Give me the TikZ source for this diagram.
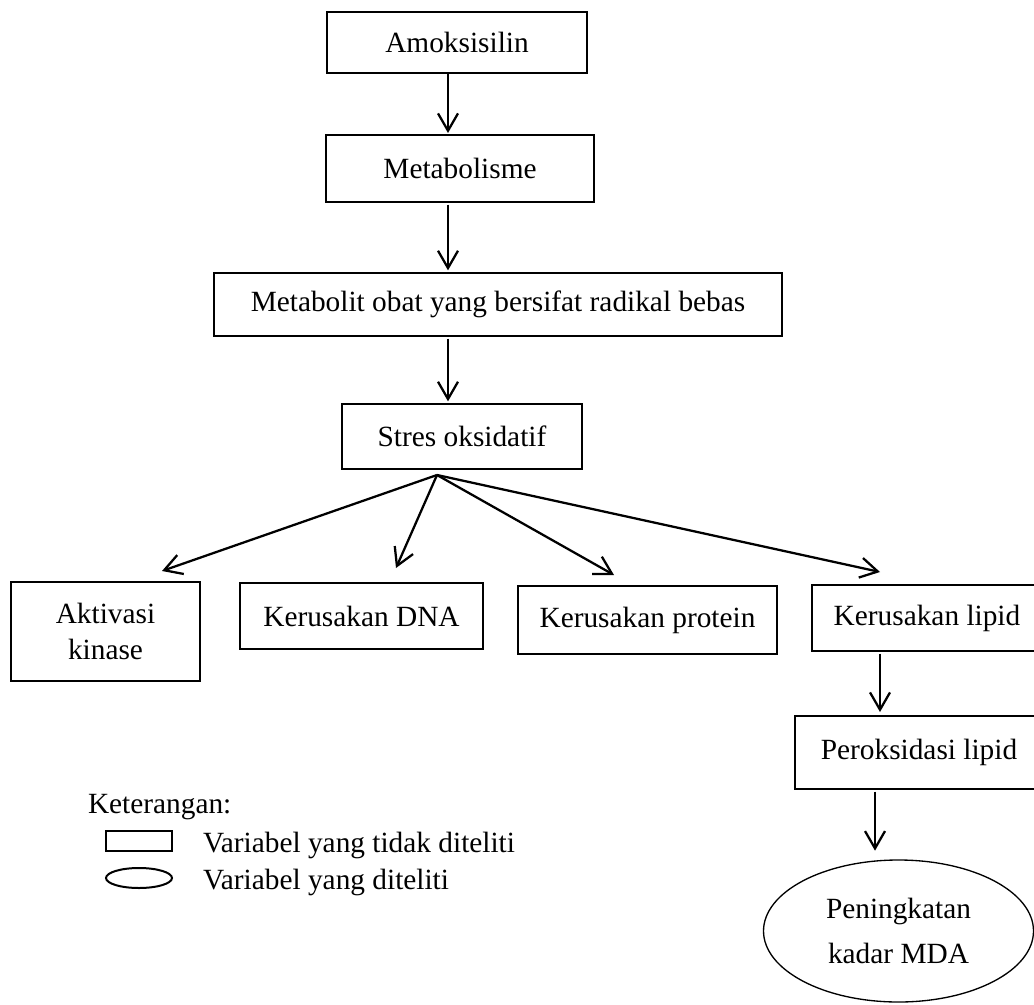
\documentclass[tikz,border=0pt]{standalone}
\usepackage{fontspec}
\setmainfont{Liberation Serif}
\usetikzlibrary{arrows.meta,shapes.geometric}

\tikzset{every picture/.style={line width=1pt}}
\tikzset{
  box/.style={draw, rectangle, inner sep=0pt, outer sep=0pt, align=center, font=\fontsize{22}{27}\selectfont},
  oval/.style={draw, ellipse, inner sep=0pt, outer sep=0pt, align=center, font=\fontsize{22}{34}\selectfont},
  arr/.style={-{Straight Barb[length=13pt,width=15pt]}, line width=1.7pt},
  txt/.style={inner sep=0pt, outer sep=0pt, anchor=base west, font=\fontsize{22}{27}\selectfont}
}

\begin{document}
\begin{tikzpicture}[x=0.75pt,y=0.75pt,yscale=-1,xscale=1]
	\useasboundingbox (0,0) rectangle (1034,1005);

	%Boxes: main chain
	\node[box, minimum width=195pt, minimum height=45.75pt] (amok) at (457,42.5) {Amoksisilin};
	\node[box, minimum width=201pt, minimum height=50.25pt] (metab) at (460,168.5) {Metabolisme};
	\node[box, minimum width=426pt, minimum height=47.25pt] (radikal) at (498,304.5) {Metabolit obat yang bersifat radikal bebas};
	\node[box, minimum width=180pt, minimum height=48.75pt] (stres) at (462,436.5) {Stres oksidatif};

	%Boxes: effects
	\node[box, minimum width=141.75pt, minimum height=74.25pt] (kinase) at (105.5,631.5) {Aktivasi\\kinase};
	\node[box, minimum width=182.25pt, minimum height=49.5pt] (dna) at (361.5,616) {Kerusakan DNA};
	\node[box, minimum width=194.25pt, minimum height=51pt] (protein) at (647.5,620) {Kerusakan protein};
	\node[box, minimum width=172.5pt, minimum height=49.5pt] (lipid) at (927,618) {Kerusakan lipid};
	\node[box, minimum width=186pt, minimum height=54.75pt] (perok) at (919,752.5) {Peroksidasi lipid};
	\node[oval, minimum width=202.5pt, minimum height=106.5pt] (mda) at (898.5,931) {Peningkatan\\kadar MDA};

	%Arrow coordinates
	\coordinate (ax) at (448,0);
	\coordinate (lx) at (880,0);
	\coordinate (px) at (875,0);
	\coordinate (src) at (437,475);
	\coordinate (tkinase) at (162,571);
	\coordinate (tdna) at (396,568);
	\coordinate (tprotein) at (614,575);
	\coordinate (tlipid) at (880,572);

	%Straight Lines
	\draw[arr, shorten >=1.5pt] (amok.south -| ax) -- (metab.north -| ax);
	\draw[arr, shorten <=2pt, shorten >=2pt] (metab.south -| ax) -- (radikal.north -| ax);
	\draw[arr, shorten <=2pt, shorten >=2pt] (radikal.south -| ax) -- (stres.north -| ax);
	\draw[arr] (src) -- (tkinase);
	\draw[arr] (src) -- (tdna);
	\draw[arr] (src) -- (tprotein);
	\draw[arr] (src) -- (tlipid);
	\draw[arr, shorten <=2pt, shorten >=3pt] (lipid.south -| lx) -- (perok.north -| lx);
	\draw[arr, shorten <=2pt, shorten >=7pt] (perok.south -| px) -- (mda.north -| px);

	% Legend
	\node[txt] (ket) at (88,813) {Keterangan:};
	\node[draw, rectangle, line width=1.5pt, minimum width=49.5pt, minimum height=15pt, inner sep=0pt] (legbox) at (139,841) {};
	\node[txt] (legboxtext) at (203,852) {Variabel yang tidak diteliti};
	\node[draw, ellipse, line width=1.5pt, minimum width=49.5pt, minimum height=15pt, inner sep=0pt] (legoval) at (139,878) {};
	\node[txt] (legovaltext) at (203,889) {Variabel yang diteliti};

\end{tikzpicture}
\end{document}
